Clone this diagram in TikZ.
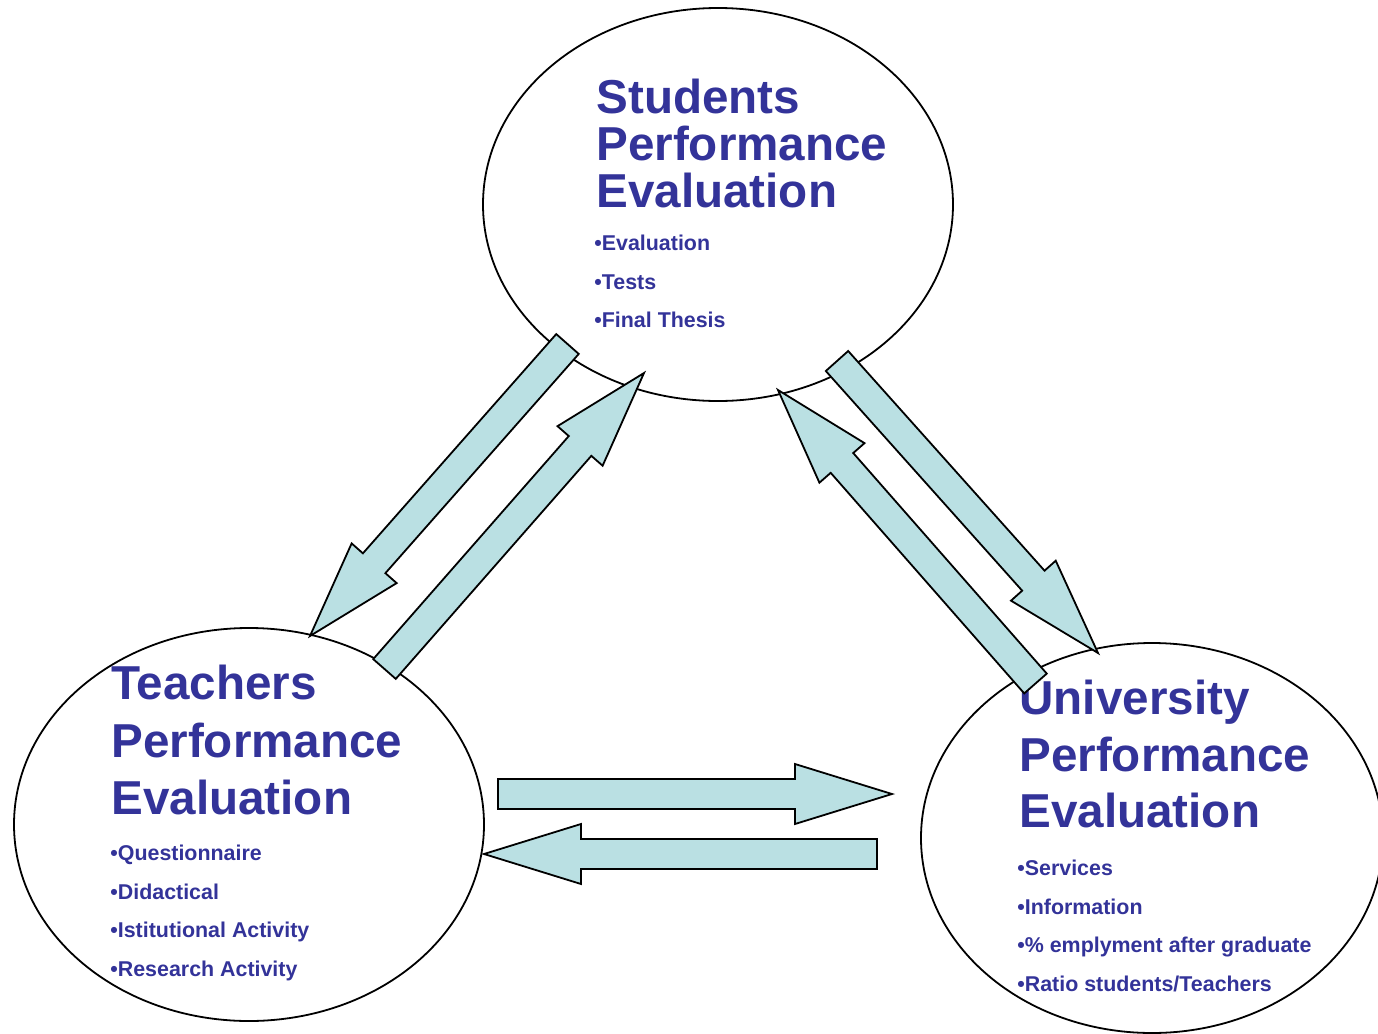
\documentclass[tikz,border=0pt]{standalone}
\usepackage{fontspec}
\setmainfont{Liberation Sans}
\usetikzlibrary{shapes.geometric,calc}
\definecolor{evalblue}{RGB}{51,51,153}
\definecolor{arrowfill}{RGB}{186,224,227}

\tikzset{
  bubble/.style={ellipse, draw, line width=0.9pt, inner sep=0pt},
  heading/.style 2 args={anchor=north west, inner sep=0pt, align=left,
    text=evalblue, font=\bfseries\fontsize{#1}{#2}\selectfont},
  items/.style={anchor=north west, inner sep=0pt, align=left,
    text=evalblue, font=\bfseries\fontsize{10.7}{19.25}\selectfont},
  arrowbody/.style={draw, fill=arrowfill, line width=0.9pt, line join=miter}
}

% block arrow from tail #1 to tip #2
\newcommand{\blockarrow}[2]{%
  \coordinate (hb) at ($(#2)!48.5pt!(#1)$);
  \draw[arrowbody] ($(#1)!7.5pt!90:(#2)$) -- ($(hb)!7.5pt!-90:(#1)$)
    -- ($(hb)!15pt!-90:(#1)$) -- (#2) -- ($(hb)!15pt!90:(#1)$)
    -- ($(hb)!7.5pt!90:(#1)$) -- ($(#1)!7.5pt!-90:(#2)$) -- cycle;}

\begin{document}
\begin{tikzpicture}[x=0.5pt,y=-0.5pt]
  \useasboundingbox (0,0) rectangle (1378,1034);

  % the three evaluations
  \node[bubble, minimum width=235pt, minimum height=196.5pt] (stud) at (718,204.5) {};
  \node[bubble, minimum width=235pt, minimum height=196.5pt] (teach) at (249,824.5) {};
  \node[bubble, minimum width=231pt, minimum height=195pt] (univ) at (1152,838) {};

  \node[heading={23.8}{23.3}] (studtitle) at (596,79) {Students\\Performance\\Evaluation};
  \node[items] (studitems) at (594,235) {•Evaluation\\•Tests\\•Final Thesis};

  \node[heading={23.8}{28.75}] (teachtitle) at (111,665) {Teachers\\Performance\\Evaluation};
  \node[items] (teachitems) at (110,845) {•Questionnaire\\•Didactical\\•Istitutional Activity\\•Research Activity};

  \node[heading={23.8}{28.25}] (univtitle) at (1019,680) {University\\Performance\\Evaluation};
  \node[items] (univitems) at (1017,860) {•Services\\•Information\\•\% emplyment after graduate\\•Ratio students/Teachers};

  % arrow ends
  \coordinate (st-a) at (567.5,344);
  \coordinate (st-b) at (310,636);
  \coordinate (ts-a) at (384.5,669);
  \coordinate (ts-b) at (644,373);
  \coordinate (su-a) at (837,361);
  \coordinate (su-b) at (1098,653);
  \coordinate (us-a) at (1035.5,683.5);
  \coordinate (us-b) at (778,390);
  \coordinate (tu-a) at (498,794);
  \coordinate (tu-b) at (892,794);
  \coordinate (ut-a) at (877,854);
  \coordinate (ut-b) at (484,854);

  \blockarrow{st-a}{st-b}
  \blockarrow{ts-a}{ts-b}
  \blockarrow{su-a}{su-b}
  \blockarrow{us-a}{us-b}
  \blockarrow{tu-a}{tu-b}
  \blockarrow{ut-a}{ut-b}
\end{tikzpicture}
\end{document}
